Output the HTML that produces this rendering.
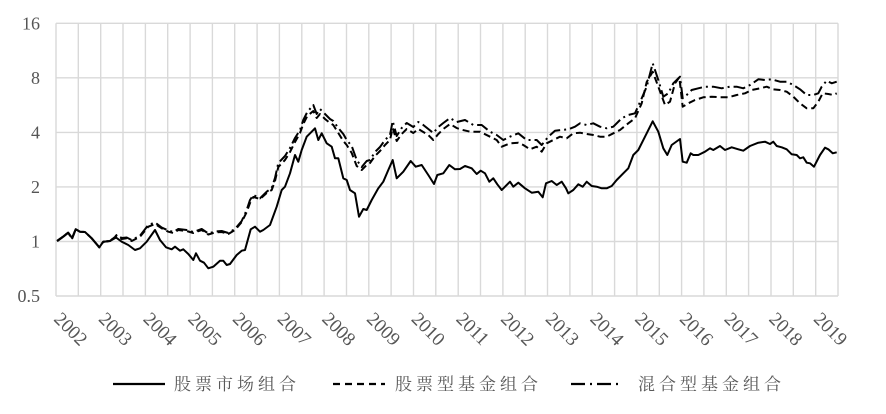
<!DOCTYPE html>
<html>
<head>
<meta charset="utf-8">
<style>
html,body{margin:0;padding:0;background:#fff;}
svg{display:block;}
.tick{font-family:"Liberation Serif",serif;font-size:18px;fill:#555;}
.yr{font-family:"Liberation Serif",serif;font-size:19px;fill:#555;}
.leg{font-family:"Liberation Serif","Noto Serif CJK SC",serif;font-size:17px;fill:#595959;letter-spacing:4px;}
</style>
</head>
<body>
<svg width="886" height="414" viewBox="0 0 886 414" xmlns="http://www.w3.org/2000/svg">
<rect width="886" height="414" fill="#fff"/>
<path stroke="#d9d9d9" stroke-width="1.4" fill="none" d="M56 23.3H838M56 77.8H838M56 132.4H838M56 186.9H838M56 241.5H838M56 296H838M56 23.3V296M78.3 23.3V296M100.7 23.3V296M123 23.3V296M145.4 23.3V296M167.7 23.3V296M190.1 23.3V296M212.4 23.3V296M234.7 23.3V296M257.1 23.3V296M279.4 23.3V296M301.8 23.3V296M324.1 23.3V296M346.5 23.3V296M368.8 23.3V296M391.1 23.3V296M413.5 23.3V296M435.8 23.3V296M458.2 23.3V296M480.5 23.3V296M502.9 23.3V296M525.2 23.3V296M547.5 23.3V296M569.9 23.3V296M592.2 23.3V296M614.6 23.3V296M636.9 23.3V296M659.3 23.3V296M681.6 23.3V296M703.9 23.3V296M726.3 23.3V296M748.6 23.3V296M771 23.3V296M793.3 23.3V296M815.7 23.3V296M838 23.3V296"/>

<g class="tick" text-anchor="end">
<text x="40" y="29.5">16</text>
<text x="40" y="84">8</text>
<text x="40" y="138.5">4</text>
<text x="40" y="193">2</text>
<text x="40" y="247.5">1</text>
<text x="40" y="302">0.5</text>
</g>

<g class="yr">
<text transform="translate(53,320) rotate(45)">2002</text>
<text transform="translate(97.7,320) rotate(45)">2003</text>
<text transform="translate(142.4,320) rotate(45)">2004</text>
<text transform="translate(187.1,320) rotate(45)">2005</text>
<text transform="translate(231.8,320) rotate(45)">2006</text>
<text transform="translate(276.5,320) rotate(45)">2007</text>
<text transform="translate(321.1,320) rotate(45)">2008</text>
<text transform="translate(365.8,320) rotate(45)">2009</text>
<text transform="translate(410.5,320) rotate(45)">2010</text>
<text transform="translate(455.2,320) rotate(45)">2011</text>
<text transform="translate(499.9,320) rotate(45)">2012</text>
<text transform="translate(544.6,320) rotate(45)">2013</text>
<text transform="translate(589.3,320) rotate(45)">2014</text>
<text transform="translate(634,320) rotate(45)">2015</text>
<text transform="translate(678.7,320) rotate(45)">2016</text>
<text transform="translate(723.4,320) rotate(45)">2017</text>
<text transform="translate(768.1,320) rotate(45)">2018</text>
<text transform="translate(812.8,320) rotate(45)">2019</text>
</g>

<g fill="none" stroke="#000" stroke-width="2" stroke-linejoin="round">
<polyline stroke-dasharray="12 4 2 4" points="57,241 63,236.7 68,232.7 72,238.3 75.7,229.3 80,231.7 85,232 91.7,238.3 99.3,247.3 103.3,241.7 110,241 116.7,235 121.7,238 126.7,237.5 131.7,240 140,235.7 148.3,225 155,222.5 161.7,227.5 168.3,230.5 173.3,232 178.3,229 186.7,230 193.3,232 201.7,229 208.3,233.5 215,231.5 221.7,231 228.3,233 235,229 241.7,221 246.7,210 250,200 253.3,195 260,198.3 266.7,191.7 271.7,188 275,178 278.3,163 285,156 290,148 295,138 300,130 303.3,120 307.3,112 313.3,105 316.7,114 320,109 325,114 330,119 333.3,121 338.3,128 343.3,134 346.7,140 351.7,146 356.7,160 361.7,167 366.7,161 370,160 375,152 380,147 385,140 390,135 392.7,121 396.7,136 401.7,128 406.7,123 413.3,127 418.3,122 423.3,125 428.3,129 433.3,133 438.3,127 443.3,123 450,118 456.7,122 465,120 473.3,125 481.7,125 490,131.7 496.7,135 503.3,140 510,136.7 518.3,133.3 526.7,140 536.7,140 541.7,145 548.3,136.7 555,130.7 561.7,130 568.3,129.3 575,126.7 580,123.3 586.7,125 593.3,123.3 600,126.7 606.7,128.3 613.3,126.7 621.7,118.3 628.3,115 635,113.3 641.7,98.3 646.7,86.7 652.7,63.3 658.3,80 663.3,96.7 668.3,93.3 673.3,83.3 680,76.7 682.7,98.3 686.7,95 691.7,90 698.3,88.3 705,86.7 713.3,86.7 721.7,88.3 730,86.7 736.7,86.7 743.3,88.3 750,85 758.3,79.3 765,80 771.7,79.3 780,81.7 786.7,81.7 793.3,85 800,89.3 806.7,95 813.3,95 818.3,93.3 821.7,86.7 826.7,80.7 831.7,83.3 836.7,81.7"/>
<polyline stroke-dasharray="7 4" points="57,241 63,236.7 68,232.7 72,238.3 75.7,229.3 80,231.7 85,232 91.7,238.3 99.3,247.3 103.3,241.7 110,241 116.7,235.7 121.7,239 126.7,238.3 131.7,241 140,236.7 148.3,226.7 155,224 161.7,228.3 168.3,231.7 173.3,233 178.3,230 186.7,231 193.3,233 201.7,230 208.3,234.5 215,232.5 221.7,232 228.3,234 235,230 241.7,222 246.7,212 250,203 253.3,197 260,199 266.7,193 271.7,190 275,181 278.3,167 285,160 290,152 295,142 300,133 303.3,124 307.3,116 313.3,111 316.7,118 320,114 325,119 330,123 333.3,125 338.3,133 343.3,141 346.7,145 351.7,153 356.7,166 361.7,170 366.7,165 370,163 375,156 380,151 385,145 390,140 392.7,128 396.7,141 401.7,134 406.7,129 413.3,133 418.3,129 423.3,132 428.3,135 433.3,140 438.3,134 443.3,129 450,124 456.7,128 460,129.3 470,131.7 480,131.7 490,136.7 496.7,140 501.7,146.7 510,143.3 518.3,142.7 523.3,145 530,149.3 536.7,146.7 541.7,151.7 546.7,143.3 553.3,140 560,136.7 566.7,138.3 573.3,133.3 580,132.7 586.7,134 593.3,135 600,136.7 606.7,136.7 613.3,133.3 620,130 628.3,123.3 635,118.3 641.7,103.3 646.7,82 652.7,71.7 658.3,86.7 665,105 670,101.7 675,83.3 679.3,77.3 682.7,106.7 688.3,103.3 695,100 703.3,97.3 711.7,96.7 720,97.3 728.3,97.3 736.7,95 745,93.3 751.7,90 760,88.3 766.7,86.7 773.3,89.3 780,90 786.7,91.7 793.3,96.7 800,103.3 806.7,108.3 813.3,108.3 818.3,101.7 822.7,93.3 828.3,94 833.3,95 836.7,93.3"/>
<polyline points="57.3,241 63.3,236.7 68.3,232.7 72.3,238.3 75.7,229.3 80,231.7 85,232 91.7,238.3 99.3,247.3 103.3,241.7 110,241 116,237.5 121.7,241.7 128.3,245 135,250 140,248.3 146.7,241.7 155,230 160,240 166,247.3 171.7,249.3 175,246.7 180,250.7 183.3,249.3 188.3,254 193.3,260 196,253.3 200,260.7 204,262.7 208.3,268.3 213.3,266.7 220,260.7 223.3,260.7 226.7,265 230,264 236.7,255 241.7,250.7 245,250 250.7,229.3 255,226.7 260,231.7 263.3,230 270,225 276.7,206.7 281.7,190 285,186.7 290,173.3 295,155 298.3,161.7 301.7,150 306.7,136.7 311.7,131.7 315,128.3 318.3,140 321.7,133.3 326.7,143.3 331.7,146.7 335,158.3 338.3,158.3 343.3,178.3 346.7,180 350,190 355,193.3 359,216.7 363.3,209 366.7,210 371.7,200 378.3,188.3 383.3,181.7 388.3,170 392.7,160 396.7,178.3 403.3,171.7 410.7,161 415.7,166.7 421.7,165 428.3,175 434,184 437.3,175 443.3,173.3 449.3,165 455,169.3 460,169 465,166 471.7,168.3 476.7,174 480.7,170.7 485,173.3 489.3,181.7 493.3,178.3 497.3,184.3 501.7,190 505,186.7 510,181.7 513.3,186.7 518.3,182.7 525,188.3 531.7,192.7 538.3,191.7 542.7,197.3 546,183.3 551.7,181 556.7,185 561.7,181.7 566,188.3 568.3,193.3 573.3,190 578.3,184.3 582.7,186.7 586.7,181.7 591.7,186 596.7,186.7 601.7,188.3 606.7,188.3 611.7,186 616.7,180 623.3,173.3 628.3,168.3 633.3,155 638.3,150 645,136.7 652.7,121.3 658.3,131.7 663.3,148.3 667.3,155 671.7,145 680,139 682.7,161.7 686.7,162.7 690.7,153.3 693.3,155 698.3,155 705,151.7 710,148.3 713.3,150 720,146 725,150 731.7,147.3 738.3,149.3 743.3,150.7 750,146 758.3,142.7 765,141.7 770,144 773.3,141.7 776.7,146 781.7,147.3 786.7,149.3 791.7,154.3 796.7,155 800,158.3 803.3,157.3 806.7,162.7 810,163.3 814,166.7 820,155 825,147.7 828.3,149.3 832.7,153.3 836.7,152.3"/>
</g>

<g stroke="#000" stroke-width="2.2">
<line x1="113" y1="384" x2="165" y2="384"/>
<line x1="333" y1="384" x2="385" y2="384" stroke-dasharray="7 5"/>
<line x1="571" y1="384" x2="623" y2="384" stroke-dasharray="14 5 2 5"/>
</g>
<g class="leg">
<text x="174" y="390">股票市场组合</text>
<text x="395" y="390">股票型基金组合</text>
<text x="638" y="390">混合型基金组合</text>
</g>
</svg>
</body>
</html>
